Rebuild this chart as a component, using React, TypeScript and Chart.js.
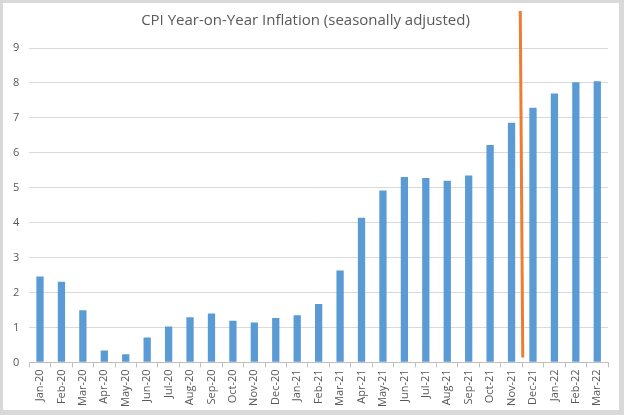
import React, { useEffect, useRef } from "react";
import { Chart, registerables } from "chart.js";

Chart.register(...registerables);

const categories = [
  "Jan-20", "Feb-20", "Mar-20", "Apr-20", "May-20", "Jun-20", "Jul-20", "Aug-20", "Sep-20",
  "Oct-20", "Nov-20", "Dec-20", "Jan-21", "Feb-21", "Mar-21", "Apr-21", "May-21", "Jun-21",
  "Jul-21", "Aug-21", "Sep-21", "Oct-21", "Nov-21", "Dec-21", "Jan-22", "Feb-22", "Mar-22",
];

const cpiValues = [
  2.46, 2.31, 1.49, 0.34, 0.23, 0.71, 1.03, 1.29, 1.40, 1.19, 1.14, 1.27, 1.35, 1.67,
  2.63, 4.14, 4.92, 5.31, 5.28, 5.20, 5.35, 6.22, 6.86, 7.29, 7.70, 8.02, 8.05,
];

const yTicks = [0, 1, 2, 3, 4, 5, 6, 7, 8, 9];

// Orange marker line between Nov-21 and Dec-21
const markerBetween = ["Nov-21", "Dec-21"];
const markerBottomValue = 0.14;

const FONT = "'Open Sans', 'Noto Sans', sans-serif";

const markerPlugin = {
  id: "markerLine",
  afterDatasetsDraw(chart: any) {
    const x = chart.scales.x;
    const y = chart.scales.y;
    const i0 = categories.indexOf(markerBetween[0]);
    const i1 = categories.indexOf(markerBetween[1]);
    const xm = (x.getPixelForValue(i0) + x.getPixelForValue(i1)) / 2;
    const ctx = chart.ctx;
    ctx.save();
    ctx.strokeStyle = "#ed7d31";
    ctx.lineWidth = 3;
    ctx.beginPath();
    ctx.moveTo(xm - 2, 8);
    ctx.lineTo(xm + 0.5, y.getPixelForValue(markerBottomValue));
    ctx.stroke();
    ctx.restore();
  },
};

export default function App() {
  const ref = useRef<HTMLCanvasElement>(null);
  useEffect(() => {
    if (!ref.current) return;
    const chart = new Chart(ref.current, {
      type: "bar",
      data: {
        labels: categories,
        datasets: [
          {
            data: cpiValues,
            backgroundColor: "#5b9bd5",
            borderWidth: 0,
            barPercentage: 0.34,
            categoryPercentage: 1,
          },
        ],
      },
      options: {
        animation: false,
        responsive: false,
        maintainAspectRatio: false,
        layout: { padding: { left: 0, right: 11, top: 0, bottom: 1 } },
        plugins: {
          legend: { display: false },
          tooltip: { enabled: false },
          title: {
            display: true,
            text: "CPI Year-on-Year Inflation (seasonally adjusted)",
            color: "#595959",
            font: { family: FONT, size: 15, weight: "normal" },
            padding: { top: 9, bottom: 18 },
          },
        },
        scales: {
          x: {
            grid: {
              display: true,
              drawOnChartArea: false,
              drawTicks: true,
              tickLength: 5,
              color: "#bfbfbf",
              offset: true,
            },
            border: { display: true, color: "#bfbfbf" },
            ticks: {
              color: "#595959",
              font: { family: FONT, size: 11 },
              minRotation: 90,
              maxRotation: 90,
              autoSkip: false,
              padding: 2,
            },
          },
          y: {
            min: 0,
            max: 9,
            afterBuildTicks: (s: any) => {
              s.ticks = yTicks.map((v) => ({ value: v }));
            },
            grid: { color: "#d9d9d9", drawTicks: false },
            border: { display: false },
            ticks: {
              color: "#595959",
              font: { family: FONT, size: 11 },
              padding: 10,
            },
          },
        },
      },
      plugins: [markerPlugin],
    });
    return () => chart.destroy();
  }, []);

  return (
    <div style={{ position: "fixed", left: 0, top: 0, width: 624, height: 415, background: "#d9d9d9" }}>
      <div style={{ position: "absolute", left: 3, top: 3, width: 616, height: 407, background: "#ffffff" }}>
        <canvas ref={ref} width={616} height={407} style={{ display: "block", width: 616, height: 407 }} />
      </div>
    </div>
  );
}
